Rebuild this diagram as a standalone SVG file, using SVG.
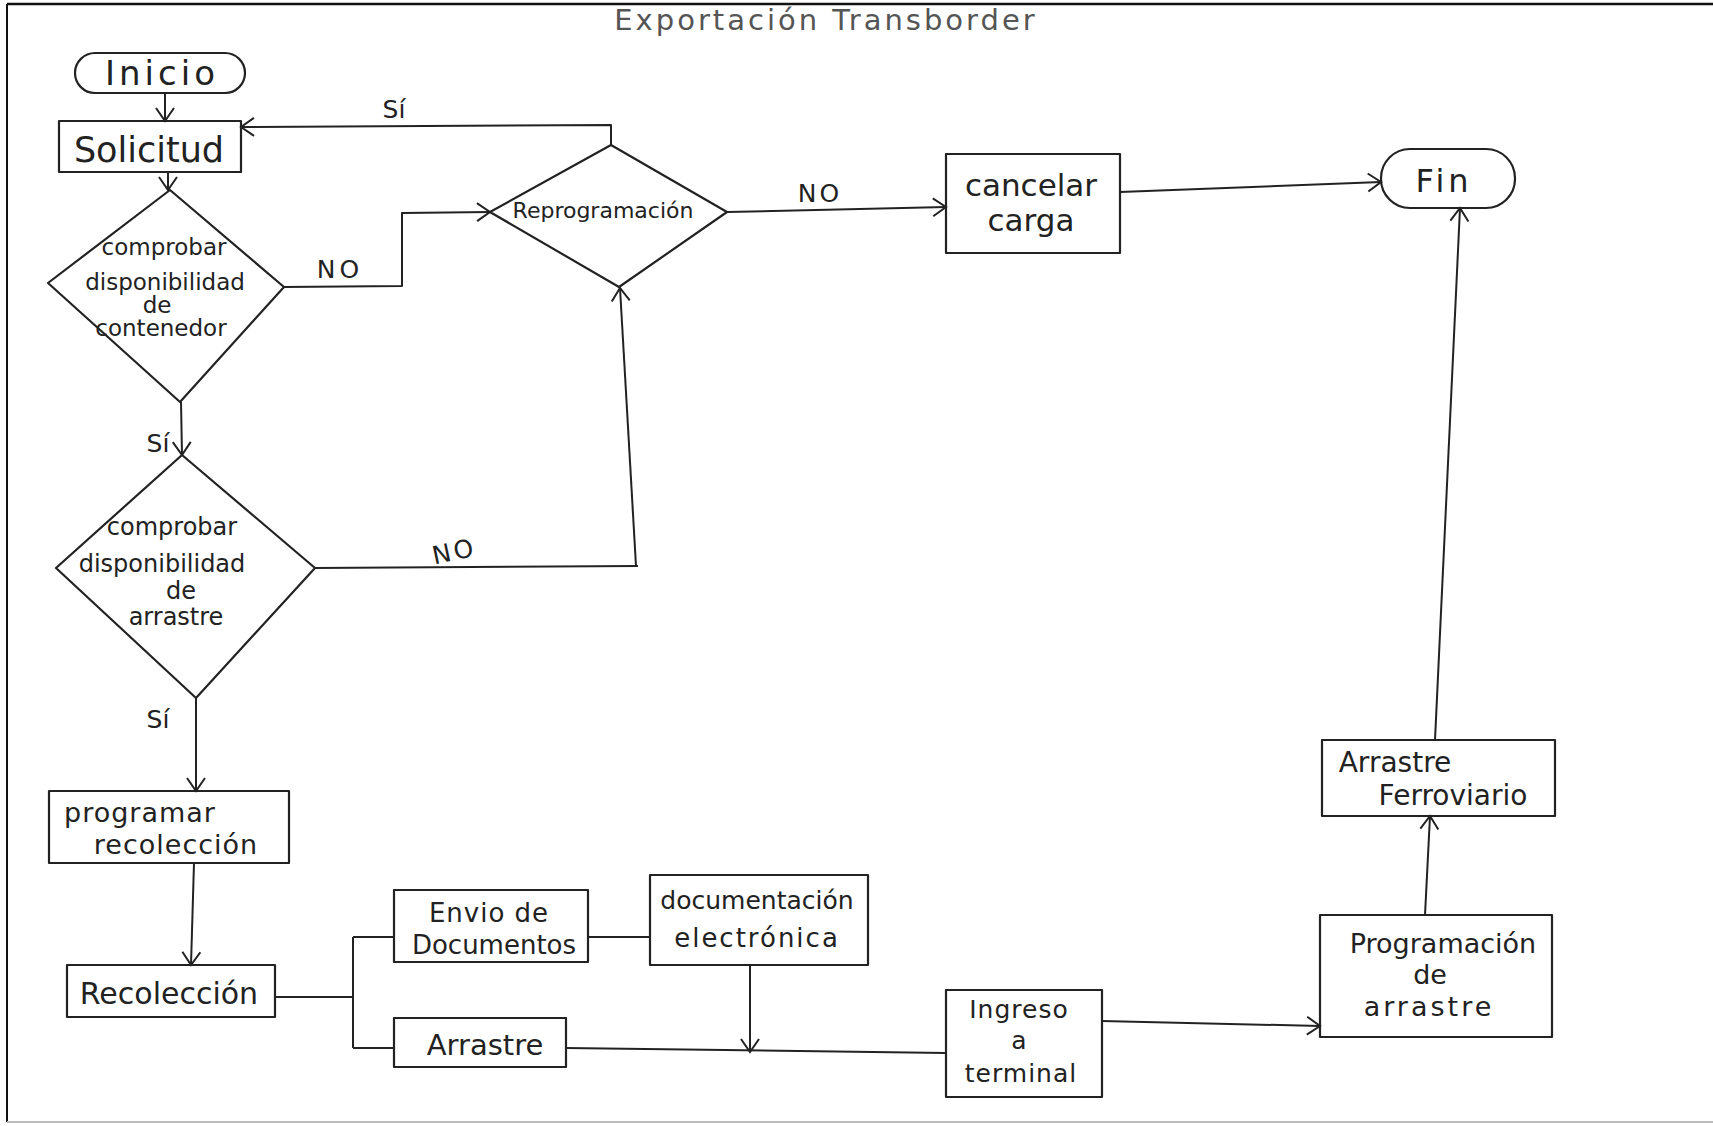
<svg xmlns="http://www.w3.org/2000/svg" width="1713" height="1126" viewBox="0 0 1713 1126">
<defs>
<style>
.shape{fill:none;stroke:#222;stroke-width:2.2;stroke-linejoin:round}
.conn{fill:none;stroke:#222;stroke-width:2;stroke-linejoin:round}
text{font-family:"DejaVu Sans","Liberation Sans",sans-serif;fill:#222;text-anchor:middle}
.lbl{font-size:25px}
.title{font-size:29px;fill:#555;letter-spacing:3px}
</style>
<marker id="arr" markerUnits="userSpaceOnUse" markerWidth="16" markerHeight="20" refX="13" refY="9" orient="auto" overflow="visible">
<path d="M0,0 L13,9 L0,18" fill="none" stroke="#222" stroke-width="2"/>
</marker>
</defs>
<rect x="0" y="0" width="1713" height="1126" fill="#fff"/>
<g id="frame">
<line x1="7" y1="4" x2="1713" y2="4" stroke="#111" stroke-width="2.5"/>
<line x1="7" y1="4" x2="7" y2="1122" stroke="#111" stroke-width="2"/>
<line x1="7" y1="1122" x2="1713" y2="1122" stroke="#bbb" stroke-width="2"/>
</g>
<text class="title" x="826" y="30">Exportación Transborder</text>

<g id="connectors">
<path class="conn" d="M165,93 L165,121" marker-end="url(#arr)"/>
<path class="conn" d="M168,172 L168,190" marker-end="url(#arr)"/>
<path class="conn" d="M181,402 L182,455" marker-end="url(#arr)"/>
<path class="conn" d="M284,287 L402,286 L402,213 L490,212" marker-end="url(#arr)"/>
<path class="conn" d="M611,145 L611,125 L241,127" marker-end="url(#arr)"/>
<path class="conn" d="M727,212 L946,207" marker-end="url(#arr)"/>
<path class="conn" d="M315,568 L638,566"/>
<path class="conn" d="M636,566 L620,288" marker-end="url(#arr)"/>
<path class="conn" d="M196,698 L196,791" marker-end="url(#arr)"/>
<path class="conn" d="M194,863 L191,965" marker-end="url(#arr)"/>
<path class="conn" d="M275,997 L353,997 M353,937 L353,1048 M353,937 L394,937 M353,1048 L394,1048"/>
<path class="conn" d="M588,937 L650,937"/>
<path class="conn" d="M750,965 L750,1052" marker-end="url(#arr)"/>
<path class="conn" d="M566,1048 L946,1053"/>
<path class="conn" d="M1102,1021 L1320,1026" marker-end="url(#arr)"/>
<path class="conn" d="M1425,915 L1430,816" marker-end="url(#arr)"/>
<path class="conn" d="M1435,740 L1460,208" marker-end="url(#arr)"/>
<path class="conn" d="M1120,192 L1381,182" marker-end="url(#arr)"/>
<text class="lbl" x="394" y="118" font-size="26">Sí</text>
<text class="lbl" x="340" y="278" letter-spacing="4">NO</text>
<text class="lbl" x="158" y="452">Sí</text>
<text class="lbl" x="454" y="560" font-size="28" letter-spacing="3" transform="rotate(-12 454 550)">NO</text>
<text class="lbl" x="158" y="728" font-size="26">Sí</text>
<text class="lbl" x="820" y="202" letter-spacing="3">NO</text>
</g>

<g id="inicio">
<rect class="shape" x="75" y="53" width="170" height="40" rx="20"/>
<text x="162" y="85" font-size="34" letter-spacing="4">Inicio</text>
</g>
<g id="solicitud">
<rect class="shape" x="59" y="121" width="182" height="51"/>
<text x="149" y="162" font-size="35">Solicitud</text>
</g>
<g id="comprobar-contenedor">
<polygon class="shape" points="170,190 284,287 180,402 48,283"/>
<text x="164" y="255" font-size="23">comprobar</text>
<text x="165" y="290" font-size="23">disponibilidad</text>
<text x="157" y="313" font-size="23">de</text>
<text x="161" y="336" font-size="23">contenedor</text>
</g>
<g id="reprogramacion">
<polygon class="shape" points="611,145 727,212 619,287 490,212"/>
<text x="603" y="218" font-size="22">Reprogramación</text>
</g>
<g id="cancelar-carga">
<rect class="shape" x="946" y="154" width="174" height="99"/>
<text x="1031" y="196" font-size="31">cancelar</text>
<text x="1031" y="231" font-size="31">carga</text>
</g>
<g id="fin">
<rect class="shape" x="1381" y="149" width="134" height="59" rx="29"/>
<text x="1444" y="192" font-size="32" letter-spacing="4">Fin</text>
</g>
<g id="comprobar-arrastre">
<polygon class="shape" points="182,455 315,568 196,698 56,568"/>
<text x="172" y="535" font-size="24">comprobar</text>
<text x="162" y="572" font-size="24">disponibilidad</text>
<text x="181" y="599" font-size="24">de</text>
<text x="176" y="625" font-size="24">arrastre</text>
</g>
<g id="programar-recoleccion">
<rect class="shape" x="49" y="791" width="240" height="72"/>
<text x="140" y="822" font-size="27" letter-spacing="1">programar</text>
<text x="176" y="854" font-size="27" letter-spacing="1">recolección</text>
</g>
<g id="recoleccion">
<rect class="shape" x="67" y="965" width="208" height="52"/>
<text x="169" y="1004" font-size="30">Recolección</text>
</g>
<g id="envio-documentos">
<rect class="shape" x="394" y="890" width="194" height="72"/>
<text x="489" y="922" font-size="26" letter-spacing="1">Envio de</text>
<text x="494" y="954" font-size="26">Documentos</text>
</g>
<g id="documentacion-electronica">
<rect class="shape" x="650" y="875" width="218" height="90"/>
<text x="757" y="909" font-size="25">documentación</text>
<text x="757" y="947" font-size="26" letter-spacing="2">electrónica</text>
</g>
<g id="arrastre">
<rect class="shape" x="394" y="1018" width="172" height="49"/>
<text x="485" y="1055" font-size="29">Arrastre</text>
</g>
<g id="ingreso-terminal">
<rect class="shape" x="946" y="990" width="156" height="107"/>
<text x="1019" y="1018" font-size="25" letter-spacing="1">Ingreso</text>
<text x="1019" y="1049" font-size="25">a</text>
<text x="1021" y="1082" font-size="25" letter-spacing="1">terminal</text>
</g>
<g id="programacion-arrastre">
<rect class="shape" x="1320" y="915" width="232" height="122"/>
<text x="1443" y="953" font-size="27">Programación</text>
<text x="1430" y="984" font-size="27">de</text>
<text x="1429" y="1016" font-size="27" letter-spacing="3">arrastre</text>
</g>
<g id="arrastre-ferroviario">
<rect class="shape" x="1322" y="740" width="233" height="76"/>
<text x="1395" y="772" font-size="28">Arrastre</text>
<text x="1453" y="805" font-size="28">Ferroviario</text>
</g>
</svg>
